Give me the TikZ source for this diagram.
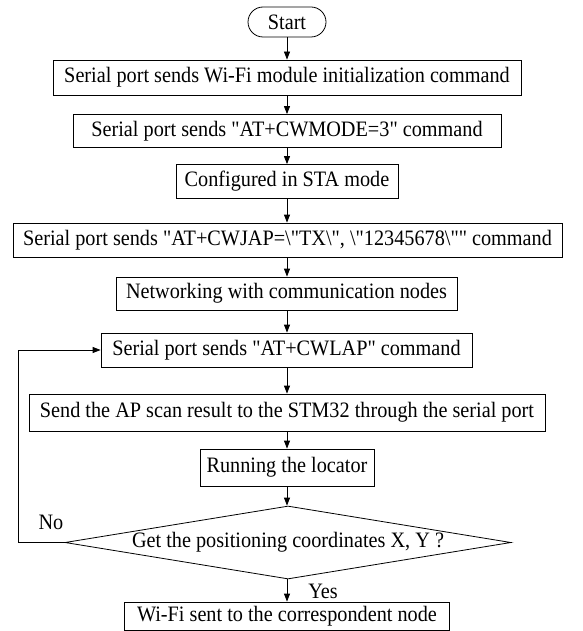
\documentclass[tikz,border=0pt]{standalone}
\usepackage{fontspec}
\setmainfont{Liberation Serif}[FakeStretch=0.92,Ligatures=TeXOff]
\usetikzlibrary{arrows.meta,shapes.geometric}
\newcommand{\sq}{\symbol{34}}
\begin{document}
\begin{tikzpicture}[x=1pt,y=-1pt,
  font=\fontsize{22}{24}\selectfont,
  flowbox/.style={draw=black,line width=0.8pt,rectangle,inner sep=0pt,align=center},
  termbox/.style={draw=black,line width=0.8pt,rectangle,rounded corners=15pt,inner sep=0pt},
  decbox/.style={draw=black,line width=0.8pt,diamond,inner sep=0pt,shape aspect=6.1},
  flowarrow/.style={line width=0.8pt,-{Triangle[length=8pt,width=6pt]}},
  flowline/.style={line width=0.8pt}]
\useasboundingbox (0,0) rectangle (582,631);
\node[termbox,minimum width=78pt,minimum height=30pt] (start) at (287,22) {Start};
\node[flowbox,minimum width=468pt,minimum height=35pt] (b1) at (287,77.5) {Serial port sends Wi-Fi module initialization command};
\node[flowbox,minimum width=428pt,minimum height=33pt] (b2) at (287,131) {Serial port sends \sq AT+CWMODE=3\sq{} command};
\node[flowbox,minimum width=222pt,minimum height=34pt] (b3) at (287,181.5) {Configured in STA mode};
\node[flowbox,minimum width=549pt,minimum height=34pt] (b4) at (287.5,240) {Serial port sends \sq AT+CWJAP=\textbackslash\sq TX\textbackslash\sq, \textbackslash\sq 12345678\textbackslash\sq\sq{} command};
\node[flowbox,minimum width=341pt,minimum height=33pt] (b5) at (286.5,293.5) {Networking with communication nodes};
\node[flowbox,minimum width=371pt,minimum height=34pt] (b6) at (286.5,350) {Serial port sends \sq AT+CWLAP\sq{} command};
\node[flowbox,minimum width=516pt,minimum height=37pt] (b7) at (287,412.5) {Send the AP scan result to the STM32 through the serial port};
\node[flowbox,minimum width=174pt,minimum height=37pt] (b8) at (287,467.5) {Running the locator};
\node[decbox,minimum width=446pt,minimum height=73pt] (dec) at (288,542.5) {Get the positioning coordinates X, Y ?};
\node[flowbox,minimum width=325pt,minimum height=28pt] (b9) at (287,616) {Wi-Fi sent to the correspondent node};
\node (no) at (51,522) {No};
\node (yes) at (323,591) {Yes};
\coordinate (lpa) at (18,542.5);
\coordinate (lpb) at (18,350);
\draw[flowarrow] (start) -- (b1);
\draw[flowarrow] (b1) -- (b2);
\draw[flowarrow] (b2) -- (b3);
\draw[flowarrow] (b3.south) -- (b3.south |- b4.north);
\draw[flowarrow] (b4.south -| b3.south) -- (b5.north -| b3.south);
\draw[flowarrow] (b5.south -| b3.south) -- (b6.north -| b3.south);
\draw[flowarrow] (b6.south -| b3.south) -- (b7.north -| b3.south);
\draw[flowarrow] (b7.south -| b3.south) -- (b8.north -| b3.south);
\draw[flowarrow] (b8.south -| b3.south) -- (dec.north -| b3.south);
\draw[flowarrow] (dec.south -| b3.south) -- (b9.north -| b3.south);
\draw[flowline] (dec.west) -- (lpa) -- (lpb);
\draw[flowarrow] (lpb) -- (b6.west);
\end{tikzpicture}
\end{document}
